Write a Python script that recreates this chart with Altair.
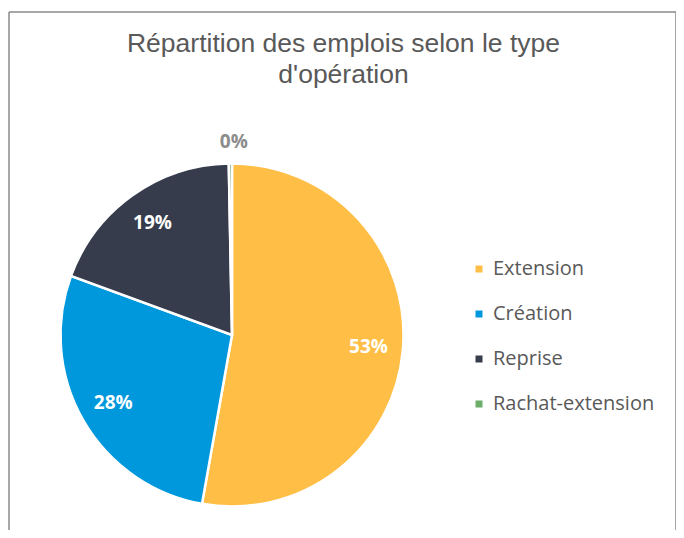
import altair as alt
import pandas as pd

# ---- data ----
categories = ["Extension", "Création", "Reprise", "Rachat-extension"]
values = [52.8, 27.8, 19.1, 0.3]          # percent of jobs
colors = ["#FFBE45", "#0098DC", "#363C4C", "#6DAF6A"]
title_lines = ["Répartition des emplois selon le type", "d'opération"]

df = pd.DataFrame({"categorie": categories, "valeur": values, "idx": list(range(len(categories)))})

W, H = 667, 518
CX, CY, R = 223, 323, 171.5

base = alt.Chart(df).encode(
    theta=alt.Theta("valeur:Q", stack=True),
    color=alt.Color(
        "categorie:N",
        scale=alt.Scale(domain=categories, range=colors),
        sort=categories,
        legend=alt.Legend(
            title=None,
            orient="none",
            legendX=460,
            legendY=247,
            symbolType="square",
            symbolSize=49,
            symbolStrokeWidth=0,
            labelFont="Open Sans",
            labelFontSize=20,
            labelColor="#595959",
            labelOffset=4,
            labelLimit=400,
            rowPadding=25,
            padding=0,
        ),
    ),
    order=alt.Order("idx:Q"),
    x=alt.value(CX),
    y=alt.value(CY),
)

pie = base.mark_arc(outerRadius=R, stroke="white", strokeWidth=2.5)

labels = base.transform_calculate(
    lbl="format(datum.valeur / 100, '.0%')",
    r="datum.valeur < 1 ? 193 : 137",
    fc="datum.valeur < 1 ? '#8C8C8C' : '#FFFFFF'",
).mark_text(
    font="Open Sans", fontSize=19, fontWeight="bold", align="center", baseline="middle"
).encode(
    text="lbl:N",
    radius=alt.Radius("r:Q", scale=None),
    fill=alt.Fill("fc:N", scale=None),
)

one = alt.Data(values=[{"k": 1}])

title = alt.Chart(one).mark_text(
    text=title_lines,
    font="Liberation Sans",
    fontSize=26.5,
    color="#595959",
    align="center",
    baseline="alphabetic",
    lineHeight=30.5,
).encode(x=alt.value(W / 2 + 1), y=alt.value(40))

frame_col = "#8A8A8A"
top_rule = alt.Chart(one).mark_rule(color=frame_col, strokeWidth=1.5).encode(
    x=alt.value(0), x2=alt.value(W), y=alt.value(0)
)
left_rule = alt.Chart(one).mark_rule(color=frame_col, strokeWidth=1.5).encode(
    x=alt.value(0), y=alt.value(0), y2=alt.value(H + 4)
)
right_rule = alt.Chart(one).mark_rule(color=frame_col, strokeWidth=1.5).encode(
    x=alt.value(W), y=alt.value(0), y2=alt.value(H + 4)
)

chart = alt.layer(pie, labels, title, top_rule, left_rule, right_rule).properties(
    width=W,
    height=H,
    autosize=alt.AutoSizeParams(type="none"),
    padding={"left": 1, "top": 4, "right": 0, "bottom": 0},
).configure_view(stroke=None)

chart.save("out.html", embed_options={"renderer": "svg", "actions": False})
